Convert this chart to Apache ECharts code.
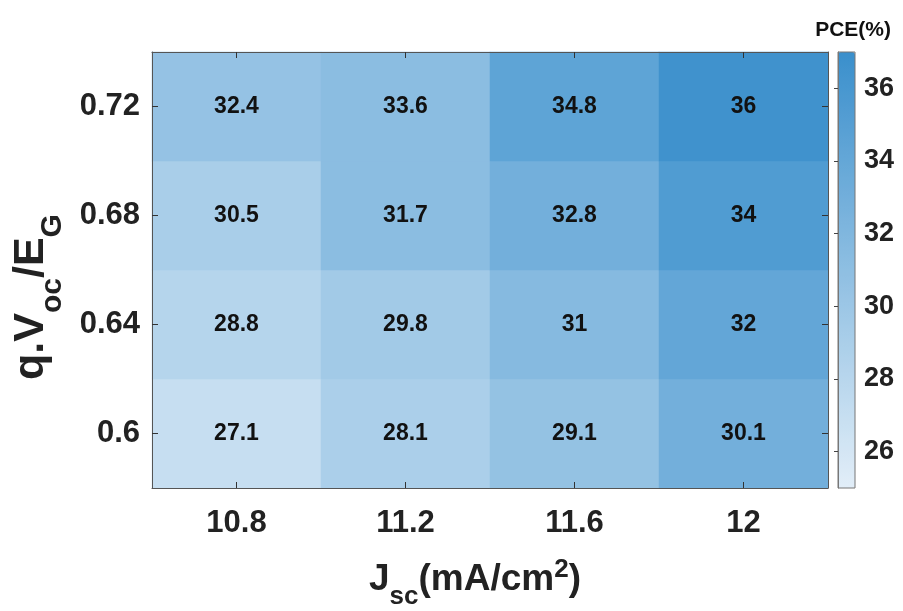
<!DOCTYPE html>
<html><head><meta charset="utf-8">
<script src="https://cdn.jsdelivr.net/npm/echarts@6/dist/echarts.min.js"></script>
<style>html,body{margin:0;padding:0;background:#fff}#c{width:903px;height:611px}</style>
</head><body><div id="c"></div>
<script>
const xCategories = ['10.8', '11.2', '11.6', '12'];
const yCategories = ['0.6', '0.64', '0.68', '0.72'];
// PCE labels, rows by y category (bottom to top), columns by x category
const row060 = [27.1, 28.1, 29.1, 30.1];
const row064 = [28.8, 29.8, 31, 32];
const row068 = [30.5, 31.7, 32.8, 34];
const row072 = [32.4, 33.6, 34.8, 36];
// cell colour levels as read against the colour bar
const shade060 = [27.0, 28.9, 30.6, 32.9];
const shade064 = [28.2, 29.6, 31.6, 34.1];
const shade068 = [29.1, 31.2, 32.9, 35.4];
const shade072 = [30.5, 31.2, 34.4, 36.6];
const colorbarTicks = [26, 28, 30, 32, 34, 36];
const cMin = 25, cMax = 37;

const rows = [row060, row064, row068, row072];
const shades = [shade060, shade064, shade068, shade072];
const data = [];
rows.forEach((r, yi) => r.forEach((v, xi) => data.push([xi, yi, v, shades[yi][xi]])));

const font = 'Liberation Sans, Arial, sans-serif';
const ink = '#222';
const chart = echarts.init(document.getElementById('c'));
const catAxisCommon = {
  type: 'category', z: 10,
  axisLine: { show: true, lineStyle: { color: '#555', width: 1 } },
  axisTick: { show: true, inside: true, alignWithLabel: true, length: 6, lineStyle: { color: '#333' } },
  splitLine: { show: false },
  splitArea: { show: false }
};
chart.setOption({
  animation: false,
  title: { text: 'PCE(%)', right: 7, top: 15, textStyle: { fontFamily: font, fontWeight: 'bold', fontSize: 21, color: '#111' } },
  grid: [
    { left: 152, right: 75, top: 52, bottom: 123, outerBoundsMode: 'none', containLabel: false },
    { left: 838, right: 48, top: 52, bottom: 123, outerBoundsMode: 'none', containLabel: false,
      show: true, z: 10, borderColor: '#777', borderWidth: 1, backgroundColor: 'transparent' }
  ],
  xAxis: [
    Object.assign({}, catAxisCommon, {
      gridIndex: 0, data: xCategories, position: 'bottom',
      axisLabel: { fontFamily: font, fontWeight: 'bold', fontSize: 31, color: ink, margin: 20 },
      name: '{m|J}{s|sc}{m|(mA/cm}{p|2}{m|)}', nameLocation: 'middle', nameGap: 66,
      nameTextStyle: { padding: [0, 30, 0, 0], rich: {
        m: { fontFamily: font, fontWeight: 'bold', fontSize: 37, color: ink, lineHeight: 52, verticalAlign: 'middle' },
        s: { fontFamily: font, fontWeight: 'bold', fontSize: 26, color: ink, lineHeight: 52, verticalAlign: 'bottom', padding: [0, 0, -4, 0] },
        p: { fontFamily: font, fontWeight: 'bold', fontSize: 26, color: ink, lineHeight: 52, verticalAlign: 'top', padding: [3, 0, 0, 0] }
      } }
    }),
    Object.assign({}, catAxisCommon, {
      gridIndex: 0, data: xCategories, position: 'top', axisLabel: { show: false }
    }),
    { type: 'value', gridIndex: 1, show: false, min: 0, max: 1 }
  ],
  yAxis: [
    Object.assign({}, catAxisCommon, {
      gridIndex: 0, data: yCategories, position: 'left',
      axisLabel: { fontFamily: font, fontWeight: 'bold', fontSize: 31, color: ink, margin: 12 },
      name: '{m|q.V}{s|oc}{m|/E}{s|G}', nameLocation: 'middle', nameGap: 92, nameRotate: 90,
      nameTextStyle: { padding: [0, 54, 0, 0], rich: {
        m: { fontFamily: font, fontWeight: 'bold', fontSize: 43, color: ink, lineHeight: 58, verticalAlign: 'middle' },
        s: { fontFamily: font, fontWeight: 'bold', fontSize: 30, color: ink, lineHeight: 58, verticalAlign: 'bottom', padding: [0, 0, -8, 0] }
      } }
    }),
    Object.assign({}, catAxisCommon, {
      gridIndex: 0, data: yCategories, position: 'right', axisLabel: { show: false }
    }),
    {
      type: 'value', gridIndex: 1, position: 'right', min: cMin, max: cMax, z: 10,
      axisLine: { show: true, lineStyle: { color: '#777' } },
      axisTick: { show: true, inside: true, length: 4, customValues: colorbarTicks, lineStyle: { color: '#444' } },
      axisLabel: { customValues: colorbarTicks, fontFamily: font, fontWeight: 'bold', fontSize: 27, color: ink, margin: 9 },
      splitLine: { show: false }
    }
  ],
  visualMap: {
    type: 'continuous', min: cMin, max: cMax, seriesIndex: 0, dimension: 3, show: true, calculable: false,
    left: 838, top: 52, itemWidth: 17, itemHeight: 436, text: ['', ''], showLabel: false, z: 1,
    inRange: { color: ['#e2eef8', '#3a8fcc'] }, padding: 0, itemGap: 0
  },
  series: [{
    type: 'heatmap', xAxisIndex: 0, yAxisIndex: 0, data: data,
    encode: { x: 0, y: 1, value: 3 },
    label: { show: true, fontFamily: font, fontWeight: 'bold', fontSize: 23, color: '#111',
      formatter: p => String(p.value[2]) },
    itemStyle: { borderWidth: 0 },
    emphasis: { disabled: true }
  }]
});
</script></body></html>
